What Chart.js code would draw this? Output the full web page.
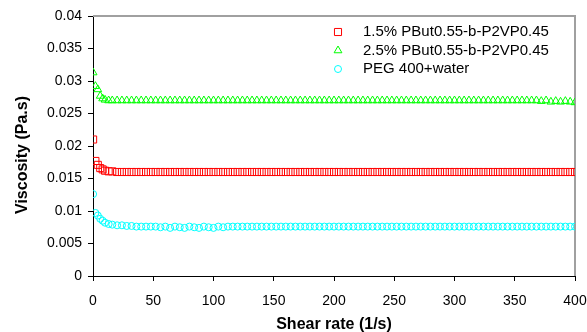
<!DOCTYPE html>
<html>
<head>
<meta charset="utf-8">
<script src="https://cdn.jsdelivr.net/npm/chart.js@4.4.1/dist/chart.umd.min.js"></script>
<style>
  html, body { margin: 0; padding: 0; background: #fff; }
  #wrap { width: 587px; height: 332px; }
</style>
</head>
<body>
<div id="wrap"><canvas id="chart" width="587" height="332"></canvas></div>
<script>
// Shear rate (1/s)
const shearRate = [
  0.1, 2, 4, 6, 8, 10, 13, 16,
  20, 24, 28, 32, 36, 40, 44, 48, 52, 56,
  60, 64, 68, 72, 76, 80, 84, 88, 92, 96,
  100, 104, 108, 112, 116, 120, 124, 128, 132, 136,
  140, 144, 148, 152, 156, 160, 164, 168, 172, 176,
  180, 184, 188, 192, 196, 200, 204, 208, 212, 216,
  220, 224, 228, 232, 236, 240, 244, 248, 252, 256,
  260, 264, 268, 272, 276, 280, 284, 288, 292, 296,
  300, 304, 308, 312, 316, 320, 324, 328, 332, 336,
  340, 344, 348, 352, 356, 360, 364, 368, 372, 376,
  380, 384, 388, 392, 396, 400
];

// 1.5% PBut0.55-b-P2VP0.45
const visc15 = [
  0.0210, 0.0177, 0.0171, 0.0166, 0.0164, 0.0162, 0.0161, 0.0161,
  0.0160, 0.0160, 0.0160, 0.0160, 0.0160, 0.0160, 0.0160, 0.0160, 0.0160, 0.0160,
  0.0160, 0.0160, 0.0160, 0.0160, 0.0160, 0.0160, 0.0160, 0.0160, 0.0160, 0.0160,
  0.0160, 0.0160, 0.0160, 0.0160, 0.0160, 0.0160, 0.0160, 0.0160, 0.0160, 0.0160,
  0.0160, 0.0160, 0.0160, 0.0160, 0.0160, 0.0160, 0.0160, 0.0160, 0.0160, 0.0160,
  0.0160, 0.0160, 0.0160, 0.0160, 0.0160, 0.0160, 0.0160, 0.0160, 0.0160, 0.0160,
  0.0160, 0.0160, 0.0160, 0.0160, 0.0160, 0.0160, 0.0160, 0.0160, 0.0160, 0.0160,
  0.0160, 0.0160, 0.0160, 0.0160, 0.0160, 0.0160, 0.0160, 0.0160, 0.0160, 0.0160,
  0.0160, 0.0160, 0.0160, 0.0160, 0.0160, 0.0160, 0.0160, 0.0160, 0.0160, 0.0160,
  0.0160, 0.0160, 0.0160, 0.0160, 0.0160, 0.0160, 0.0160, 0.0160, 0.0160, 0.0160,
  0.0160, 0.0160, 0.0160, 0.0160, 0.0160, 0.0160
];

// 2.5% PBut0.55-b-P2VP0.45
const visc25 = [
  0.0313, 0.0292, 0.0287, 0.0277, 0.0273, 0.0271, 0.0270, 0.0270,
  0.0270, 0.0270, 0.0270, 0.0270, 0.0270, 0.0270, 0.0270, 0.0270, 0.0270, 0.0270,
  0.0270, 0.0270, 0.0270, 0.0270, 0.0270, 0.0270, 0.0270, 0.0270, 0.0270, 0.0270,
  0.0270, 0.0270, 0.0270, 0.0270, 0.0270, 0.0270, 0.0270, 0.0270, 0.0270, 0.0270,
  0.0270, 0.0270, 0.0270, 0.0270, 0.0270, 0.0270, 0.0270, 0.0270, 0.0270, 0.0270,
  0.0270, 0.0270, 0.0270, 0.0270, 0.0270, 0.0270, 0.0270, 0.0270, 0.0270, 0.0270,
  0.0270, 0.0270, 0.0270, 0.0270, 0.0270, 0.0270, 0.0270, 0.0270, 0.0270, 0.0270,
  0.0270, 0.0270, 0.0270, 0.0270, 0.0270, 0.0270, 0.0270, 0.0270, 0.0270, 0.0270,
  0.0270, 0.0270, 0.0270, 0.0270, 0.0270, 0.0270, 0.0270, 0.0270, 0.0270, 0.0270,
  0.0270, 0.0270, 0.0270, 0.0270, 0.0270, 0.0270, 0.0270, 0.0270, 0.0269, 0.0270,
  0.0268, 0.0269, 0.0268, 0.0269, 0.0268, 0.0267
];

// PEG 400+water
const viscPeg = [
  0.0126, 0.0097, 0.0093, 0.0088, 0.0085, 0.0082, 0.0080, 0.0079,
  0.0078, 0.0078, 0.0077, 0.0077, 0.0076, 0.0076, 0.0076, 0.0076, 0.0076, 0.0075,
  0.0076, 0.0074, 0.0076, 0.0075, 0.0074, 0.0076, 0.0075, 0.0074, 0.0076, 0.0075,
  0.0074, 0.0076, 0.0075, 0.0076, 0.0076, 0.0076, 0.0076, 0.0076, 0.0076, 0.0076,
  0.0076, 0.0076, 0.0076, 0.0076, 0.0076, 0.0076, 0.0076, 0.0076, 0.0076, 0.0076,
  0.0076, 0.0076, 0.0076, 0.0076, 0.0076, 0.0076, 0.0076, 0.0076, 0.0076, 0.0076,
  0.0076, 0.0076, 0.0076, 0.0076, 0.0076, 0.0076, 0.0076, 0.0076, 0.0076, 0.0076,
  0.0076, 0.0076, 0.0076, 0.0076, 0.0076, 0.0076, 0.0076, 0.0076, 0.0076, 0.0076,
  0.0076, 0.0076, 0.0076, 0.0076, 0.0076, 0.0076, 0.0076, 0.0076, 0.0076, 0.0076,
  0.0076, 0.0076, 0.0076, 0.0076, 0.0076, 0.0076, 0.0076, 0.0076, 0.0076, 0.0076,
  0.0076, 0.0076, 0.0076, 0.0076, 0.0076, 0.0076
];

const seriesLabels = ["1.5% PBut0.55-b-P2VP0.45", "2.5% PBut0.55-b-P2VP0.45", "PEG 400+water"];
const yTitle = "Viscosity (Pa.s)";
const xTitle = "Shear rate (1/s)";

const FONT = '"Liberation Sans", Arial, sans-serif';

function toPoints(ys) {
  return shearRate.map((x, i) => ({ x: x, y: ys[i] }));
}

// gray frame on top and right side of the plot area
const frameLines = {
  id: 'frameLines',
  beforeDatasetsDraw(chart) {
    const { ctx, chartArea: a } = chart;
    ctx.save();
    ctx.strokeStyle = '#a0a0a0';
    ctx.lineWidth = 2;
    ctx.beginPath();
    ctx.moveTo(a.left, a.top);
    ctx.lineTo(a.right, a.top);
    ctx.lineTo(a.right, a.bottom);
    ctx.stroke();
    ctx.restore();
  }
};

// y title sits a bit below the middle of the axis in the original
const yTitleText = {
  id: 'yTitleText',
  afterDraw(chart) {
    const ctx = chart.ctx;
    ctx.save();
    ctx.translate(23, 155);
    ctx.rotate(-Math.PI / 2);
    ctx.font = 'bold 16px ' + FONT;
    ctx.fillStyle = '#000';
    ctx.textAlign = 'center';
    ctx.textBaseline = 'middle';
    ctx.fillText(yTitle, 0, 0);
    ctx.restore();
  }
};

// legend inside the plot, top right
const legendBox = {
  id: 'legendBox',
  afterDraw(chart) {
    const ctx = chart.ctx;
    ctx.save();
    chart.data.datasets.forEach((ds, i) => {
      const y = 32 + i * 18.5;
      ctx.strokeStyle = ds.borderColor;
      ctx.fillStyle = 'rgba(0,0,0,0)';
      ctx.lineWidth = 1;
      Chart.helpers.drawPoint(ctx, {
        pointStyle: ds.pointStyle, radius: ds.pointRadius, rotation: 0, borderWidth: 1
      }, 338, y);
      ctx.fillStyle = '#000';
      ctx.font = '15px ' + FONT;
      ctx.textBaseline = 'middle';
      ctx.fillText(ds.label, 363, y);
    });
    ctx.restore();
  }
};

new Chart(document.getElementById('chart'), {
  type: 'scatter',
  data: {
    datasets: [
      { label: seriesLabels[0], data: toPoints(visc15), pointStyle: 'rect', pointRadius: 5,
        borderColor: '#ff0000', backgroundColor: 'rgba(0,0,0,0)', borderWidth: 1 },
      { label: seriesLabels[1], data: toPoints(visc25), pointStyle: 'triangle', pointRadius: 4.5,
        borderColor: '#00ff00', backgroundColor: 'rgba(0,0,0,0)', borderWidth: 1 },
      { label: seriesLabels[2], data: toPoints(viscPeg), pointStyle: 'circle', pointRadius: 3.5,
        borderColor: '#00ffff', backgroundColor: 'rgba(0,0,0,0)', borderWidth: 1 }
    ]
  },
  options: {
    responsive: false,
    animation: false,
    devicePixelRatio: 1,
    layout: { padding: { left: 0, top: 16, right: 12, bottom: 0 } },
    plugins: {
      legend: { display: false },
      tooltip: { enabled: false }
    },
    scales: {
      x: {
        type: 'linear',
        min: 0, max: 400,
        afterFit: (scale) => { scale.height = 56; scale.paddingRight = 0; },
        ticks: { stepSize: 50, color: '#000', padding: 12, maxRotation: 0,
                 font: { family: FONT, size: 14 } },
        grid: { drawOnChartArea: false, drawTicks: true, tickLength: 5, color: '#000' },
        border: { color: '#000', width: 1 },
        title: { display: true, text: xTitle, color: '#000',
                 font: { family: FONT, size: 16, weight: 'bold' }, padding: { top: 0, bottom: -2 } }
      },
      y: {
        min: 0, max: 0.04,
        afterFit: (scale) => { scale.width = 93; },
        ticks: { stepSize: 0.005, color: '#000', padding: 6,
                 font: { family: FONT, size: 14 },
                 callback: (v) => String(Number(v.toFixed(3))) },
        grid: { drawOnChartArea: false, drawTicks: true, tickLength: 5, color: '#000' },
        border: { color: '#000', width: 1 },
        title: { display: false }
      }
    }
  },
  plugins: [frameLines, yTitleText, legendBox]
});
</script>
</body>
</html>
